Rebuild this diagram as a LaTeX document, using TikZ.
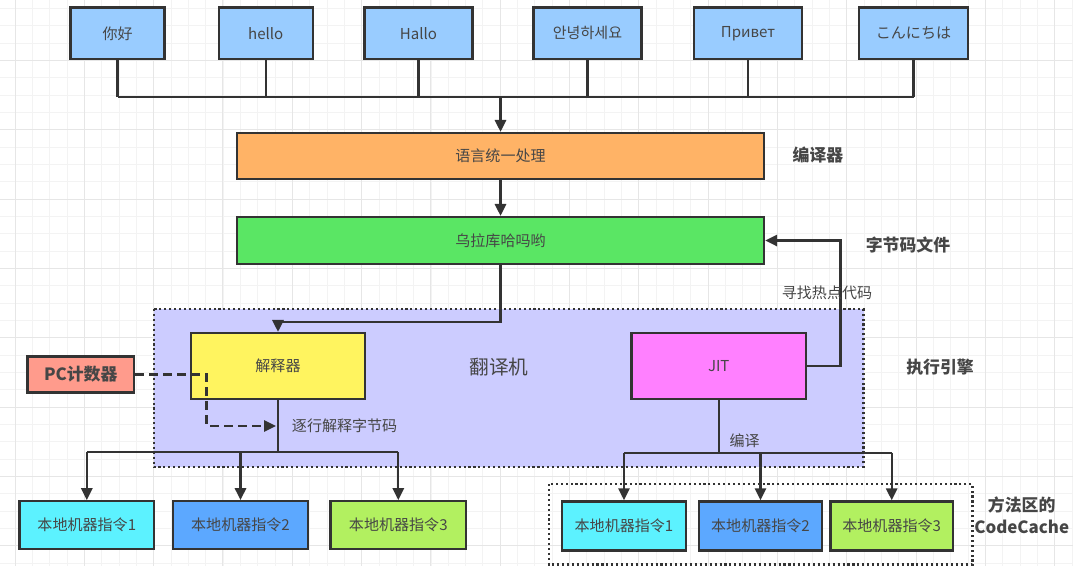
\documentclass[tikz,border=0pt]{standalone}
\usepackage{fontspec}
\setmainfont{Noto Sans CJK SC}
\usepackage{tikz}
\usetikzlibrary{positioning, arrows.meta, calc}
\definecolor{langblue}{RGB}{153,204,255}
\definecolor{unifyorange}{RGB}{255,179,102}
\definecolor{bytegreen}{RGB}{90,230,100}
\definecolor{enginebg}{RGB}{204,204,255}
\definecolor{interpyellow}{RGB}{255,244,95}
\definecolor{jitpink}{RGB}{255,128,255}
\definecolor{pcred}{RGB}{255,155,140}
\definecolor{natcyan}{RGB}{92,242,255}
\definecolor{natblue}{RGB}{92,168,255}
\definecolor{natgreen}{RGB}{178,240,96}
\definecolor{linegray}{RGB}{51,51,51}
\definecolor{textgray}{RGB}{70,70,70}
\definecolor{gridminor}{RGB}{243,243,243}
\definecolor{gridmajor}{RGB}{230,230,230}

\begin{document}
\begin{tikzpicture}[x=0.025cm, y=-0.025cm,
    box/.style={draw=linegray, line width=1.6pt, rectangle, inner sep=0pt, text=textgray, font=\fontsize{10.7}{12}\selectfont},
    lang/.style={box, fill=langblue, minimum height=1.29cm},
    natbox/.style={box, minimum height=1.19cm},
    wire/.style={draw=linegray, line width=1.6pt},
    arrow/.style={wire, -{Triangle[length=8.5pt, width=8pt]}},
    pcline/.style={wire, dash pattern=on 6pt off 4pt, -{Triangle[length=8.5pt, width=8pt]}},
    region/.style={draw=linegray, line width=1.5pt, dash pattern=on 1.5pt off 2pt},
    title/.style={font=\fontsize{12}{15.6}\selectfont\bfseries, text=textgray, align=center},
    note/.style={font=\fontsize{10.7}{12}\selectfont, text=textgray}]

    \useasboundingbox (0,0) rectangle (1073,566);
    \fill[white] (0,0) rectangle (1073,566);

    % === GRILLE ===
    \foreach \k in {0,...,61} \draw[gridminor, line width=0.6pt] ({15+17.33*\k},0) -- ({15+17.33*\k},566);
    \foreach \k in {0,...,32} \draw[gridminor, line width=0.6pt] (0,{8.4+17.33*\k}) -- (1073,{8.4+17.33*\k});
    \foreach \k in {0,...,15} \draw[gridmajor, line width=0.7pt] ({15+69.32*\k},0) -- ({15+69.32*\k},566);
    \foreach \k in {0,...,7} \draw[gridmajor, line width=0.7pt] (0,{60.4+69.32*\k}) -- (1073,{60.4+69.32*\k});

    % === LANGUES ===
    \node[lang, minimum width=2.35cm] (nihao) at (117.6,33.3) {你好};
    \node[lang, minimum width=2.35cm] (hello) at (265.7,33.3) {hello};
    \node[lang, minimum width=2.70cm] (hallo) at (418.4,33.3) {Hallo};
    \node[lang, minimum width=2.70cm] (annyeong) at (587.5,33.3) {안녕하세요};
    \node[lang, minimum width=2.71cm] (privet) at (748,33.3) {Привет};
    \node[lang, minimum width=2.72cm] (konnichiwa) at (913.5,33.3) {こんにちは};

    % Bus vers le compilateur
    \coordinate (bus) at (500.5,97);
    \foreach \n in {nihao,hello,hallo,annyeong,privet,konnichiwa}
        \draw[wire] (\n.south) -- (\n.south |- bus);
    \draw[wire] (nihao.south |- bus) -- (konnichiwa.south |- bus);

    % === COMPILATEUR ===
    \node[box, fill=unifyorange, minimum width=13.175cm, minimum height=1.15cm] (unify) at (500.5,156) {语言统一处理};
    \node[box, fill=bytegreen, minimum width=13.175cm, minimum height=1.175cm] (bytecode) at (500.5,240.5) {乌拉库哈吗哟};
    \draw[arrow] (bus) -- (unify.north);
    \draw[arrow] (unify.south) -- (bytecode.north);

    \node[title] (compilerlbl) at (818,155) {编译器};
    \node[title] (bytefilelbl) at (908,245) {字节码文件};

    % === MOTEUR D'EXÉCUTION ===
    \draw[region, fill=enginebg] (154,309) rectangle (863.5,467);
    \node[title] (enginelbl) at (940,367) {执行引擎};
    \node[font=\fontsize{14}{16}\selectfont, text=textgray] (translbl) at (499,367.5) {翻译机};

    \node[box, fill=interpyellow, minimum width=4.35cm, minimum height=1.65cm] (interp) at (278,366) {解释器};
    \node[box, fill=jitpink, minimum width=4.36cm, minimum height=1.65cm] (jit) at (718.75,366.2) {JIT};
    \node[box, fill=pcred, minimum width=2.66cm, minimum height=0.9cm, font=\fontsize{12}{14}\selectfont\bfseries] (pc) at (80.75,374.5) {PC计数器};

    \draw[arrow] (bytecode.south) -- ++(0,57) -| (interp.north);

    % Boucle du code chaud
    \coordinate (hot) at (840.6,240.5);
    \draw[arrow] (jit.east) -| (hot) -- (bytecode.east);
    \node[note] (hotlbl) at (827,293) {寻找热点代码};

    % Compteur PC
    \coordinate (pcturn) at (206.6,426);
    \coordinate (readpt) at (276,426);
    \draw[pcline] (pc.east) -| (pcturn) -- (readpt);
    \node[note, anchor=west] (readlbl) at (287,426) {逐行解释字节码};

    % === INSTRUCTIONS NATIVES ===
    \node[natbox, fill=natcyan, minimum width=3.36cm] (nat1) at (86.8,525) {本地机器指令1};
    \node[natbox, fill=natblue, minimum width=3.375cm] (nat2) at (240.5,525) {本地机器指令2};
    \node[natbox, fill=natgreen, minimum width=3.385cm] (nat3) at (398.3,525) {本地机器指令3};

    \draw[region] (549,484) rectangle (972.5,564.5);
    \node[natbox, fill=natcyan, minimum width=3.10cm, minimum height=1.23cm] (nat4) at (624,526) {本地机器指令1};
    \node[natbox, fill=natblue, minimum width=3.075cm, minimum height=1.23cm] (nat5) at (760.5,526) {本地机器指令2};
    \node[natbox, fill=natgreen, minimum width=3.06cm, minimum height=1.23cm] (nat6) at (891.7,526) {本地机器指令3};
    \node[title] (codecachelbl) at (1021.7,515) {方法区的\\CodeCache};

    % Distribution depuis l'interpréteur
    \coordinate (ibus) at (278,452);
    \draw[wire] (interp.south) -- (ibus);
    \draw[wire] (nat1.north |- ibus) -- (nat3.north |- ibus);
    \foreach \n in {nat1,nat2,nat3}
        \draw[arrow] (\n.north |- ibus) -- (\n.north);

    % Distribution depuis le JIT
    \coordinate (jbus) at (718.75,452.7);
    \draw[wire] (jit.south) -- (jbus);
    \draw[wire] (nat4.north |- jbus) -- (nat6.north |- jbus);
    \foreach \n in {nat4,nat5,nat6}
        \draw[arrow] (\n.north |- jbus) -- (\n.north);
    \node[note] (compilelbl) at (744.7,440.6) {编译};

\end{tikzpicture}
\end{document}
